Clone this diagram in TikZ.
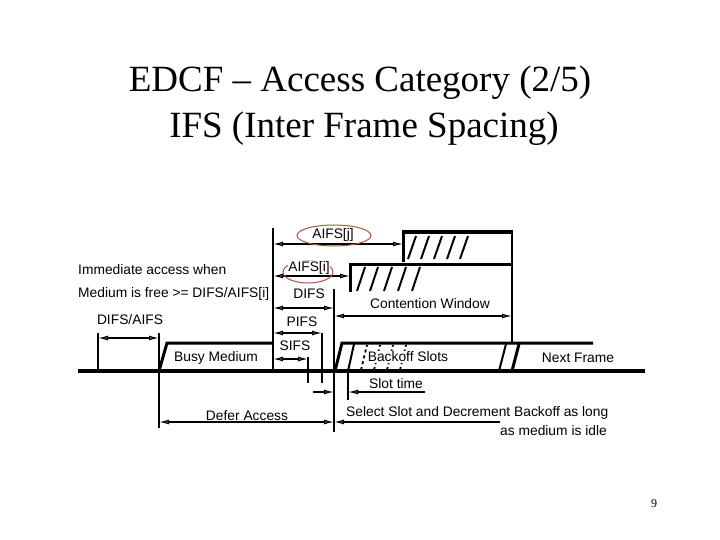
\documentclass[tikz,border=0pt]{standalone}
\usepackage{fontspec}
\setmainfont{Liberation Serif}
\newfontfamily\labfont{Liberation Sans}
\usetikzlibrary{arrows.meta}
\definecolor{ellred}{HTML}{B5503A}
\tikzset{
  lab/.style={font=\labfont\fontsize{13.8}{15}\selectfont, inner sep=0pt},
  tip/.style={},
  dimar/.style={line width=1.7pt, {Latex[open,length=10pt,width=5pt,line width=1.3pt]}-{Latex[open,length=10pt,width=5pt,line width=1.3pt]}},
  onear/.style={line width=1.7pt, -{Latex[open,length=10pt,width=5pt,line width=1.3pt]}},
  tick/.style={line width=2.1pt},
  frame/.style={line width=3pt, line join=miter},
  slash/.style={line width=2pt},
  dslash/.style={line width=1.8pt, dash pattern=on 3pt off 3pt},
  ell/.style={draw=ellred, line width=1pt}
}
\begin{document}
\begin{tikzpicture}[x=1pt,y=-1pt]
\useasboundingbox (0,0) rectangle (720,540);
% title
\node[font=\fontsize{37}{40}\selectfont, anchor=base, inner sep=0pt] (t1) at (360,92) {EDCF -- Access Category (2/5)};
\node[font=\fontsize{37}{40}\selectfont, anchor=base, inner sep=0pt] (t2) at (364,138) {IFS (Inter Frame Spacing)};
\node[font=\fontsize{12}{14}\selectfont, inner sep=0pt] (pg) at (654,504) {9};

% medium line
\draw[line width=3.6pt] (78,371) -- (645,371);

% vertical ticks
\draw[tick] (98,333) -- (98,371);
\draw[tick] (159,333) -- (159,428);
\draw[line width=2.8pt] (273,228) -- (273,371);
\draw[tick] (334,289) -- (334,432);
\draw[tick] (322,333) -- (322,383);
\draw[tick] (308,357) -- (308,383);
\draw[tick] (348,371) -- (348,400);
\draw[line width=2.6pt] (512,230) -- (512,343);

% busy medium frame
\draw[frame] (159,371) -- (167,343) -- (273,343);
% AIFS[j] window
\draw[frame] (403,262) -- (403,232) -- (512,232);
\foreach \x in {408,421,434,447,460} \draw[slash] (\x,259) -- (\x+8,236);
% AIFS[i] window
\draw[frame] (350,292) -- (350,264) -- (512,264);
\foreach \x in {357,370,384,398,412} \draw[slash] (\x,291) -- (\x+8,267);
% backoff
\draw[frame] (335,371) -- (342,343) -- (593,343);
\draw[slash] (348,371) -- (354,344);
\foreach \x in {361,374,387,400} \draw[dslash] (\x,370) -- (\x+6,345);
\draw[slash] (499,371) -- (506,344);
\draw[frame] (512,371) -- (519,344);

% dimension arrows
\draw[dimar] (98,338) -- (159,338);
\draw[dimar] (273,244) -- (403,244);
\draw[dimar] (273,276) -- (350,276);
\draw[dimar] (273,308) -- (334,308);
\draw[dimar] (273,333) -- (322,333);
\draw[dimar] (273,359) -- (308,359);
\draw[dimar] (334,316) -- (512,316);
\draw[dimar] (159,422) -- (334,422);
\draw[onear] (500,422) -- (334,422);
\draw[onear] (313,392) -- (334,392);
\draw[onear] (425,392) -- (348,392);

% ellipses
\draw[ell] (334,235.5) ellipse [x radius=37, y radius=10.5];
\draw[ell] (308,272) ellipse [x radius=25, y radius=11];

% labels
\node[lab, anchor=west] (ia) at (78,270) {Immediate access when};
\node[lab, anchor=west] (mf) at (78,294) {Medium is free >= DIFS/AIFS[i]};
\node[lab] (da) at (130,320) {DIFS/AIFS};
\node[lab] (bm) at (216,358) {Busy Medium};
\node[lab, fill=white, inner sep=0.5pt] (aj) at (333,235) {AIFS[j]};
\node[lab, fill=white, inner sep=0.5pt] (ai) at (309,268) {AIFS[i]};
\node[lab] (di) at (309,294) {DIFS};
\node[lab] (pi) at (302,322) {PIFS};
\node[lab] (si) at (295,346) {SIFS};
\node[lab] (cw) at (430,304) {Contention Window};
\node[lab, fill=white, inner sep=1pt] (bs) at (408,357) {Backoff Slots};
\node[lab] (nf) at (578,358) {Next Frame};
\node[lab, anchor=west] (st) at (369,384) {Slot time};
\node[lab] (dfa) at (247,416) {Defer Access};
\node[lab, anchor=west] (ss) at (346,413) {Select Slot and Decrement Backoff as long};
\node[lab, anchor=east] (ss2) at (607,431) {as medium is idle};
\end{tikzpicture}
\end{document}
